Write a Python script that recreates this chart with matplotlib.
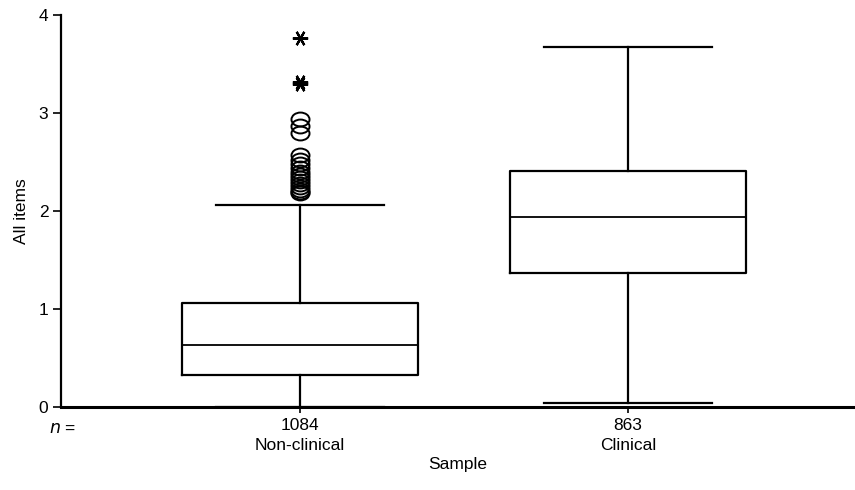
import matplotlib.pyplot as plt
from matplotlib.markers import MarkerStyle
from matplotlib.transforms import Affine2D

plt.rcParams['font.family'] = ['Liberation Sans', 'DejaVu Sans']

# box statistics
groups = ['Non-clinical', 'Clinical']
counts = [1084, 863]
q1 = [0.33, 1.37]
medians = [0.63, 1.94]
q3 = [1.06, 2.41]
whisker_lo = [0.0, 0.04]
whisker_hi = [2.06, 3.68]

# outliers of the non-clinical group (circles) and extremes (asterisks)
outliers_nonclinical = [2.18, 2.20, 2.22, 2.25, 2.28, 2.31, 2.34, 2.37, 2.40,
                        2.44, 2.48, 2.52, 2.57, 2.80, 2.87, 2.94]
extremes_nonclinical = [3.30, 3.32, 3.77]

fig = plt.figure(figsize=(8.55, 4.9), dpi=100)
ax = fig.add_axes([0.0713, 0.1694, 0.9287, 0.7996])

stats = []
for i in range(len(groups)):
    stats.append({
        'label': f'{counts[i]}\n{groups[i]}',
        'q1': q1[i], 'med': medians[i], 'q3': q3[i],
        'whislo': whisker_lo[i], 'whishi': whisker_hi[i],
        'fliers': outliers_nonclinical if i == 0 else [],
    })

# SPSS draws the outlier circles a little flattened
oval = MarkerStyle('o', transform=Affine2D().scale(1.3, 1.0))

positions = [1, 2]
line = dict(color='black', linewidth=1.6)
ax.bxp(stats, positions=positions, widths=0.72, capwidths=0.51,
       boxprops=line, medianprops=dict(color='black', linewidth=1.3),
       whiskerprops=line, capprops=line,
       flierprops=dict(marker=oval, markersize=10, markerfacecolor='none',
                       markeredgecolor='black', markeredgewidth=1.4))

ax.plot([positions[0]] * len(extremes_nonclinical), extremes_nonclinical,
        linestyle='none', marker=(6, 2, 90), markersize=11,
        markeredgecolor='black', markeredgewidth=1.6, color='black')

ax.set_xlim(0.271, 2.692)
ax.set_ylim(0, 4)
ax.set_yticks([0, 1, 2, 3, 4])

for side in ['top', 'right']:
    ax.spines[side].set_visible(False)
ax.spines['left'].set_linewidth(1.6)
ax.spines['bottom'].set_linewidth(2.2)

fs = 12.5
ax.tick_params(axis='y', direction='out', length=6, width=1.2, labelsize=fs, pad=3)
ax.tick_params(axis='x', direction='out', length=4, width=1.2, labelsize=fs, pad=4)
for lbl in ax.get_xticklabels():
    lbl.set_linespacing(1.4)

ax.text(-0.015, -0.037, '$n$ =', transform=ax.transAxes, fontsize=fs,
        ha='left', va='top')

ax.set_xlabel('Sample', fontsize=fs, labelpad=3)
ax.set_ylabel('All items', fontsize=fs, labelpad=7)

fig.savefig('out.png', dpi=100)
